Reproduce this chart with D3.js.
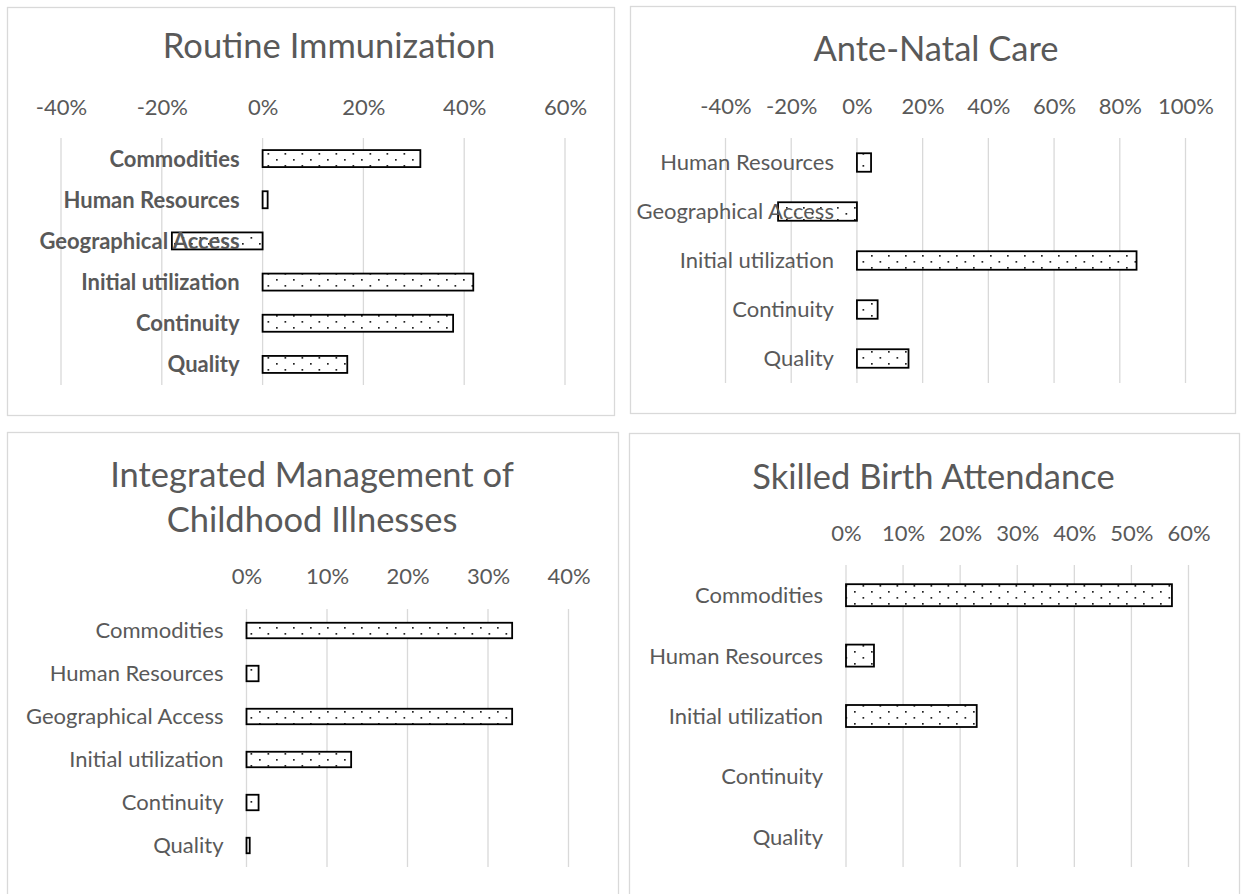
<!DOCTYPE html>
<html><head><meta charset="utf-8">
<script src="https://cdnjs.cloudflare.com/ajax/libs/d3/7.8.5/d3.min.js"></script>
<style>
body{margin:0;background:#fff}
svg{display:block}
text{font-family:Lato,"Carlito",sans-serif;fill:#595959}
</style></head><body>
<svg id="c" width="1242" height="894"></svg>
<script>
// ---- data ----
const riCategories = ["Commodities","Human Resources","Geographical Access","Initial utilization","Continuity","Quality"];
const riValues = [0.313, 0.010, -0.180, 0.418, 0.378, 0.168];
const riTicks = [-0.4,-0.2,0,0.2,0.4,0.6];

const ancCategories = ["Human Resources","Geographical Access","Initial utilization","Continuity","Quality"];
const ancValues = [0.043, -0.240, 0.851, 0.063, 0.157];
const ancTicks = [-0.4,-0.2,0,0.2,0.4,0.6,0.8,1.0];

const imciCategories = ["Commodities","Human Resources","Geographical Access","Initial utilization","Continuity","Quality"];
const imciValues = [0.330, 0.015, 0.330, 0.130, 0.015, 0.004];
const imciTicks = [0,0.1,0.2,0.3,0.4];

const sbaCategories = ["Commodities","Human Resources","Initial utilization","Continuity","Quality"];
const sbaValues = [0.571, 0.049, 0.229, 0, 0];
const sbaTicks = [0,0.1,0.2,0.3,0.4,0.5,0.6];

const titles = [["Routine Immunization"],["Ante-Natal Care"],["Integrated Management of","Childhood Illnesses"],["Skilled Birth Attendance"]];

// ---- layout ----
const panels = [
  {title:titles[0], cats:riCategories, vals:riValues, ticks:riTicks, bold:true,
   box:[7,7,614,415], tx:329, ty:[58], tickY:115, xr:[61,565], yr:[138,385], bar:17},
  {title:titles[1], cats:ancCategories, vals:ancValues, ticks:ancTicks, bold:false,
   box:[630,6,1235,413], tx:936, ty:[61], tickY:114, xr:[725.5,1185.5], yr:[138,383], bar:18.5},
  {title:titles[2], cats:imciCategories, vals:imciValues, ticks:imciTicks, bold:false,
   box:[7,432,618,910], tx:312, ty:[487,532], tickY:584, xr:[246.5,568.5], yr:[609,867], bar:15.5},
  {title:titles[3], cats:sbaCategories, vals:sbaValues, ticks:sbaTicks, bold:false,
   box:[629,433,1239,910], tx:933.5, ty:[489], tickY:541, xr:[846,1188.5], yr:[565,867], bar:22}
];

const svg = d3.select("#c");
const defs = svg.append("defs");
const pat = defs.append("pattern").attr("id","dots").attr("patternUnits","userSpaceOnUse")
  .attr("width",17).attr("height",12);
pat.append("rect").attr("width",17).attr("height",12).attr("fill","#fff");
pat.append("rect").attr("x",4).attr("y",3).attr("width",1.7).attr("height",1.7).attr("fill","#222");
pat.append("rect").attr("x",12.5).attr("y",9).attr("width",1.7).attr("height",1.7).attr("fill","#222");

const fmt = d => d3.format(".0%")(d).replace("\u2212","-");

panels.forEach(p => {
  const g = svg.append("g");
  g.append("rect").attr("x",p.box[0]+0.5).attr("y",p.box[1]+0.5)
    .attr("width",p.box[2]-p.box[0]).attr("height",p.box[3]-p.box[1])
    .attr("fill","#fff").attr("stroke","#d9d9d9").attr("stroke-width",1.3);

  p.title.forEach((t,i) => {
    g.append("text").attr("x",p.tx).attr("y",p.ty[i]).attr("text-anchor","middle")
      .style("font-size","34.5px").text(t);
  });

  const x = d3.scaleLinear().domain([p.ticks[0], p.ticks[p.ticks.length-1]]).range(p.xr);
  const y = d3.scaleBand().domain(p.cats).range(p.yr);
  const pad = (y.step()-p.bar)/2;

  // gridlines
  g.selectAll(".grid").data(p.ticks).join("line")
    .attr("x1",d=>x(d)).attr("x2",d=>x(d)).attr("y1",p.yr[0]).attr("y2",p.yr[1])
    .attr("stroke","#d9d9d9").attr("stroke-width",1.3);

  // tick labels (top axis)
  const ax = d3.axisTop(x).tickValues(p.ticks).tickFormat(fmt).tickSize(0).tickPadding(0);
  const axg = g.append("g").attr("transform",`translate(0,${p.tickY})`).call(ax);
  axg.select(".domain").remove();
  axg.selectAll("text").attr("dy",0).attr("y",0).style("font-size","22px").attr("fill","#595959")
    .style("font-family","Lato,sans-serif");

  // bars
  g.selectAll(".bar").data(p.vals).join("rect")
    .attr("x",d=>x(Math.min(0,d))).attr("width",d=>Math.abs(x(d)-x(0)))
    .attr("y",(d,i)=>y(p.cats[i])+pad).attr("height",p.bar)
    .attr("fill","url(#dots)").attr("stroke",d=>d===0?"none":"#000").attr("stroke-width",1.8);

  // category labels
  g.selectAll(".lab").data(p.cats).join("text")
    .attr("x",x(0)-23).attr("y",d=>y(d)+y.bandwidth()/2).attr("dy","0.36em")
    .attr("text-anchor","end").style("font-size","22px")
    .style("font-weight",p.bold?"bold":"normal").text(d=>d);
});
</script></body></html>
